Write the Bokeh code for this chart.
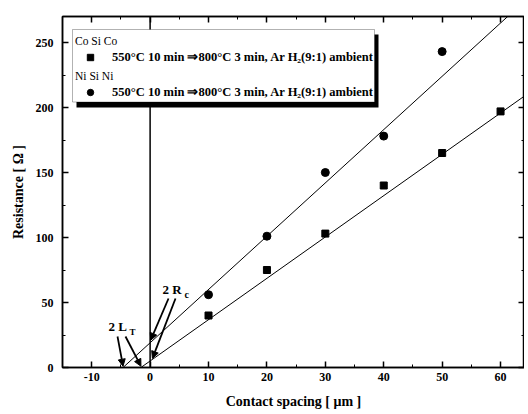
from bokeh.plotting import figure
from bokeh.models import (Range1d, FixedTicker, Span, BoxAnnotation, Legend,
                          LegendItem, Arrow, NormalHead, Label, LinearAxis)
from bokeh.embed import file_html
from bokeh.resources import INLINE

# ---- data ----
spacing_co = [10, 20, 30, 40, 50, 60]
res_co = [40, 75, 103, 140, 165, 197]
spacing_ni = [10, 20, 30, 40, 50]
res_ni = [56, 101, 150, 178, 243]
fit_co = (3.18, 5.0)    # slope, intercept
fit_ni = (4.1, 19.0)
x_ticks = [-10, 0, 10, 20, 30, 40, 50, 60]
x_tick_labels = ["-10", "0", "10", "20", "30", "40", "50", "60"]
y_ticks = [0, 50, 100, 150, 200, 250]
title_co = "Co Si Co"
title_ni = "Ni Si Ni"
entry_text = "550\u00b0C 10 min \u21d2800\u00b0C 3 min, Ar H\u2082(9:1) ambient"

X0, X1 = -15, 64.1
Y0, Y1 = 0, 270
FW, FH = 462, 351
FL, FT = 62, 16   # page position of frame

FONT = "Liberation Serif"

p = figure(frame_width=FW, frame_height=FH, output_backend="svg",
           toolbar_location=None, x_range=Range1d(X0, X1), y_range=Range1d(Y0, Y1),
           min_border_left=FL, min_border_top=FT, min_border_bottom=45, min_border_right=0)
p.outline_line_color = "black"
p.outline_line_width = 1.5
p.xgrid.visible = False
p.ygrid.visible = False
p.background_fill_color = "white"
p.border_fill_color = "white"


def px2x(px):
    return X0 + (px - FL) / FW * (X1 - X0)


def py2y(py):
    return Y1 - (py - FT) / FH * (Y1 - Y0)


def style_axis(ax, ticks, labels=True):
    step = ticks[1] - ticks[0]
    ax.ticker = FixedTicker(ticks=ticks, minor_ticks=[t + step / 2 for t in [ticks[0] - step] + ticks])
    ax.major_tick_in = 6
    ax.major_tick_out = 0
    ax.minor_tick_in = 3
    ax.minor_tick_out = 0
    ax.axis_line_width = 1.5
    ax.major_tick_line_width = 1.5
    ax.minor_tick_line_width = 1
    ax.axis_line_color = "black"
    ax.major_tick_line_color = "black"
    ax.minor_tick_line_color = "black"
    if labels:
        ax.major_label_text_font = FONT
        ax.major_label_text_font_style = "bold"
        ax.major_label_text_font_size = "12px"
        ax.major_label_text_color = "black"
    else:
        ax.major_label_overrides = {t: "" for t in ticks}
        ax.major_label_standoff = 0


xa = p.xaxis[0]
ya = p.yaxis[0]
style_axis(xa, x_ticks)
style_axis(ya, y_ticks)
xa.major_label_overrides = dict(zip(x_ticks, x_tick_labels))
xa.major_label_standoff = 5
ya.major_label_standoff = 9
xa.axis_label = "Contact spacing [ \u03bcm ]"
ya.axis_label = "Resistance [ \u03a9 ]"
for ax in (xa, ya):
    ax.axis_label_text_font = FONT
    ax.axis_label_text_font_style = "bold"
    ax.axis_label_text_font_size = "14px"
    ax.axis_label_text_color = "black"
xa.axis_label_standoff = 10
ya.axis_label_standoff = 7

top_ax = LinearAxis()
right_ax = LinearAxis()
style_axis(top_ax, x_ticks, labels=False)
style_axis(right_ax, y_ticks, labels=False)
p.add_layout(top_ax, "above")
p.add_layout(right_ax, "right")

# vertical line at x = 0
p.add_layout(Span(location=0, dimension="height", line_color="black", line_width=1.5))

# fit lines
for (m, b) in (fit_co, fit_ni):
    xs = [-b / m, X1]
    ys = [m * x + b for x in xs]
    p.line(xs, ys, line_color="black", line_width=1)

r_co = p.scatter(spacing_co, res_co, marker="square", size=7, color="black")
r_ni = p.scatter(spacing_ni, res_ni, marker="circle", size=8, color="black")

# arrows for 2Rc and 2LT
head = dict(size=7, fill_color="black", line_color="black")
arrows = [
    ((px2x(168), py2y(298)), (0.1, fit_ni[1] + 2)),
    ((px2x(175), py2y(298)), (0.4, fit_co[1] + 2)),
    ((px2x(117), py2y(336)), (-fit_ni[1] / fit_ni[0], 1)),
    ((px2x(125), py2y(336)), (-fit_co[1] / fit_co[0], 1)),
]
for (s, e) in arrows:
    p.add_layout(Arrow(end=NormalHead(**head), x_start=s[0], y_start=s[1],
                       x_end=e[0], y_end=e[1], line_width=1.8, line_color="black"))

lab = dict(text_font=FONT, text_font_style="bold", text_color="black")
p.add_layout(Label(x=px2x(162), y=py2y(296), text="2 R", text_font_size="13px", **lab))
p.add_layout(Label(x=px2x(184), y=py2y(299), text="c", text_font_size="10px", **lab))
p.add_layout(Label(x=px2x(108), y=py2y(333), text="2 L", text_font_size="13px", **lab))
p.add_layout(Label(x=px2x(129), y=py2y(336), text="T", text_font_size="9px", **lab))

# legend box with shadow
p.add_layout(BoxAnnotation(left=px2x(76), right=px2x(378), top=py2y(34), bottom=py2y(107),
                           fill_color="black", fill_alpha=1, line_alpha=0))
p.add_layout(BoxAnnotation(left=px2x(72), right=px2x(374), top=py2y(29), bottom=py2y(101.5),
                           fill_color="white", fill_alpha=1, line_color="black", line_width=1))


def make_legend(title, renderer, bottom_page_y):
    lg = Legend(items=[LegendItem(label=entry_text, renderers=[renderer])],
                title=title, location=(10, FT + FH - bottom_page_y), orientation="vertical")
    lg.background_fill_alpha = 0
    lg.border_line_alpha = 0
    lg.padding = 3
    lg.margin = 0
    lg.spacing = 0
    lg.glyph_width = 30
    lg.glyph_height = 16
    lg.label_standoff = 7
    lg.label_height = 16
    lg.title_standoff = 2
    lg.title_text_font = FONT
    lg.title_text_font_size = "11.5px"
    lg.title_text_font_style = "normal"
    lg.title_text_color = "black"
    lg.label_text_font = FONT
    lg.label_text_font_style = "bold"
    lg.label_text_font_size = "12.5px"
    lg.label_text_color = "black"
    return lg


p.add_layout(make_legend(title_co, r_co, 67.5))
p.add_layout(make_legend(title_ni, r_ni, 103.0))

open("out.html", "w").write(file_html(p, INLINE))
